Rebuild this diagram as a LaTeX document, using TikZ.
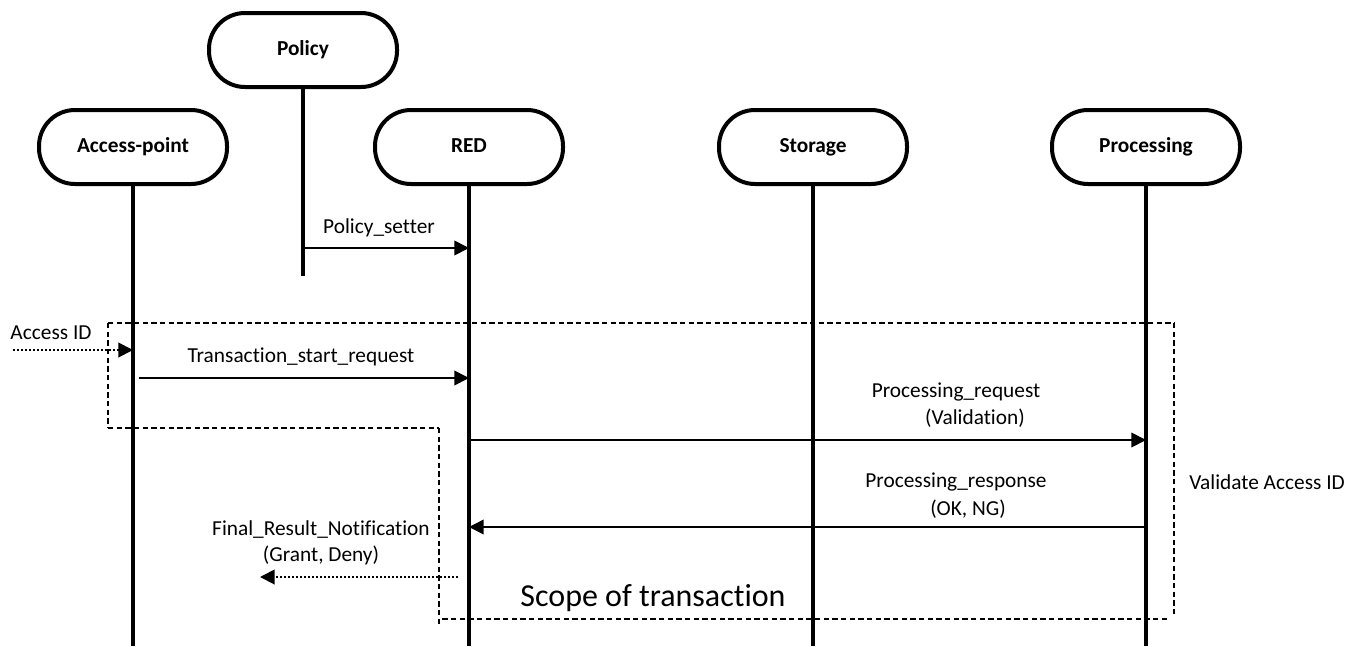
\documentclass[tikz,border=0pt]{standalone}
\usepackage{fontspec}
\setmainfont{Carlito}[Ligatures=NoCommon]
\usetikzlibrary{arrows.meta}
\tikzset{
  actor/.style={draw, line width=3pt, rounded corners=27pt,
    minimum width=141pt, minimum height=55.5pt, inner sep=0pt,
    text height=11pt, text depth=3pt,
    font=\fontsize{16}{19}\selectfont\bfseries},
  lifeline/.style={line width=3.5pt},
  msg/.style={line width=1.3pt, -{Triangle[length=11pt,width=11pt]}},
  dotmsg/.style={line width=1.5pt, dash pattern=on 1.5pt off 1.5pt,
    -{Triangle[length=11pt,width=11pt]}},
  scopeline/.style={line width=0.8pt, dash pattern=on 4pt off 2.5pt},
  lbl/.style={font=\fontsize{16}{19}\selectfont, inner sep=0pt},
}
\begin{document}
\begin{tikzpicture}[x=0.75pt,y=-0.75pt]
\useasboundingbox (0,0) rectangle (1362,646);

% participants
\node[actor] (pol) at (303,50) {Policy};
\node[actor] (ap)  at (133,147) {Access-point};
\node[actor] (red) at (469,147) {RED};
\node[actor] (sto) at (813,147) {Storage};
\node[actor] (pro) at (1146,147) {Processing};

% lifeline ends
\coordinate (polEnd) at (303,276);
\coordinate (apEnd)  at (133,646);
\coordinate (redEnd) at (469,646);
\coordinate (stoEnd) at (813,646);
\coordinate (proEnd) at (1146,646);

\draw[lifeline] (pol.south) -- (polEnd);
\draw[lifeline] (ap.south)  -- (apEnd);
\draw[lifeline] (red.south) -- (redEnd);
\draw[lifeline] (sto.south) -- (stoEnd);
\draw[lifeline] (pro.south) -- (proEnd);

% message anchor points on the lifelines
\coordinate (polSet) at (303,248);
\coordinate (redSet) at (469,248);
\coordinate (idIn)   at (13,350);
\coordinate (apId)   at (133,350);
\coordinate (apTx)   at (139,378);
\coordinate (redTx)  at (469,378);
\coordinate (redReq) at (470,440);
\coordinate (proReq) at (1146,440);
\coordinate (proRes) at (1145,527);
\coordinate (redRes) at (469,527);
\coordinate (redFin) at (458,577);
\coordinate (finOut) at (260,577);

% messages
\draw[msg] (polSet) -- (redSet);
\draw[dotmsg] (idIn) -- (apId);
\draw[msg] (apTx) -- (redTx);
\draw[msg] (redReq) -- (proReq);
\draw[msg] (proRes) -- (redRes);
\draw[dotmsg] (redFin) -- (finOut);

% labels
\node[lbl] (lset) at (379,228) {Policy\_setter};
\node[lbl] (lid)  at (51,333) {Access ID};
\node[lbl] (ltx)  at (301,357) {Transaction\_start\_request};
\node[lbl] (lreq1) at (956,392) {Processing\_request};
\node[lbl] (lreq2) at (975,418) {(Validation)};
\node[lbl] (lres1) at (956,482) {Processing\_response};
\node[lbl] (lres2) at (968,509) {(OK, NG)};
\node[lbl] (lfin1) at (321,530) {Final\_Result\_Notification};
\node[lbl] (lfin2) at (321,555) {(Grant, Deny)};
\node[lbl] (lval) at (1267,482) {Validate Access ID};
\node[inner sep=0pt, font=\fontsize{24}{28}\selectfont] (lscope) at (653,598) {Scope of transaction};

% scope of the transaction (dashed outline)
\draw[scopeline] (108,323) -- (1175,323);
\draw[scopeline] (1174,323) -- (1174,617);
\draw[scopeline] (1167,619) -- (441,619);
\draw[scopeline] (439,428) -- (439,627);
\draw[scopeline] (108,428) -- (439,428);
\draw[scopeline] (108,323) -- (108,428);
\end{tikzpicture}
\end{document}
